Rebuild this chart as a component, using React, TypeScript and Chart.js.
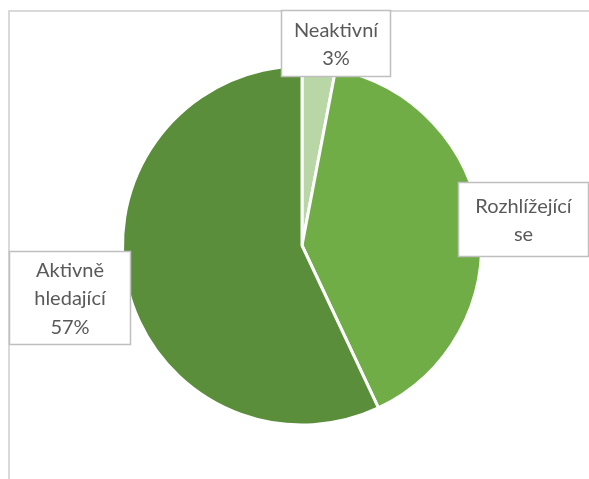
import React, { useEffect, useRef } from "react";
import { Chart, registerables } from "chart.js";

Chart.register(...registerables);

const categories = ["Neaktivní", "Rozhlížející se", "Aktivně hledající"];
const values = [3, 40, 57];
const labelLines = [["Neaktivní", "3%"], ["Rozhlížející", "se"], ["Aktivně", "hledající", "57%"]];
const colors = ["#B9D6A6", "#70AD47", "#5A8E3A"];

// label box geometry (layout only)
const boxes = [
  { x: 281, y: 10, w: 110, h: 67 },
  { x: 458, y: 182, w: 131, h: 75 },
  { x: 9, y: 251, w: 122, h: 94 },
];

const decor = {
  id: "decor",
  beforeDraw(chart: any) {
    const ctx = chart.ctx;
    ctx.save();
    ctx.strokeStyle = "#D9D9D9";
    ctx.lineWidth = 2;
    ctx.beginPath();
    ctx.moveTo(8, 11);
    ctx.lineTo(589, 11);
    ctx.moveTo(9, 10);
    ctx.lineTo(9, 479);
    ctx.stroke();
    ctx.restore();
  },
  afterDraw(chart: any) {
    const ctx = chart.ctx;
    ctx.save();
    boxes.forEach((b, i) => {
      ctx.fillStyle = "#FFFFFF";
      ctx.fillRect(b.x, b.y, b.w, b.h);
      ctx.strokeStyle = "#BFBFBF";
      ctx.lineWidth = 1.5;
      ctx.strokeRect(b.x + 0.5, b.y + 0.5, b.w - 1, b.h - 1);
      const lines = labelLines[i];
      const lh = 28.5;
      const cx = b.x + b.w / 2;
      const cy = b.y + b.h / 2 + 1;
      const start = cy - ((lines.length - 1) * lh) / 2;
      ctx.fillStyle = "#595959";
      ctx.font = "20px Lato, 'Open Sans', sans-serif";
      ctx.textAlign = "center";
      ctx.textBaseline = "middle";
      lines.forEach((t, j) => ctx.fillText(t, cx, start + j * lh));
    });
    ctx.restore();
  },
};

export default function App() {
  const ref = useRef<HTMLCanvasElement>(null);
  useEffect(() => {
    if (!ref.current) return;
    const chart = new Chart(ref.current, {
      type: "pie",
      data: {
        labels: categories,
        datasets: [
          {
            data: values,
            backgroundColor: colors,
            borderColor: "#FFFFFF",
            borderWidth: 3,
          },
        ],
      },
      options: {
        animation: false,
        responsive: false,
        layout: { padding: { left: 121, right: 106, top: 64, bottom: 52 } },
        plugins: {
          legend: { display: false },
          tooltip: { enabled: false },
        },
      },
      plugins: [decor],
    });
    return () => chart.destroy();
  }, []);
  return (
    <div style={{ position: "fixed", left: 0, top: 0, width: 589, height: 479, background: "#fff" }}>
      <canvas ref={ref} width={589} height={479} style={{ width: 589, height: 479 }} />
    </div>
  );
}
